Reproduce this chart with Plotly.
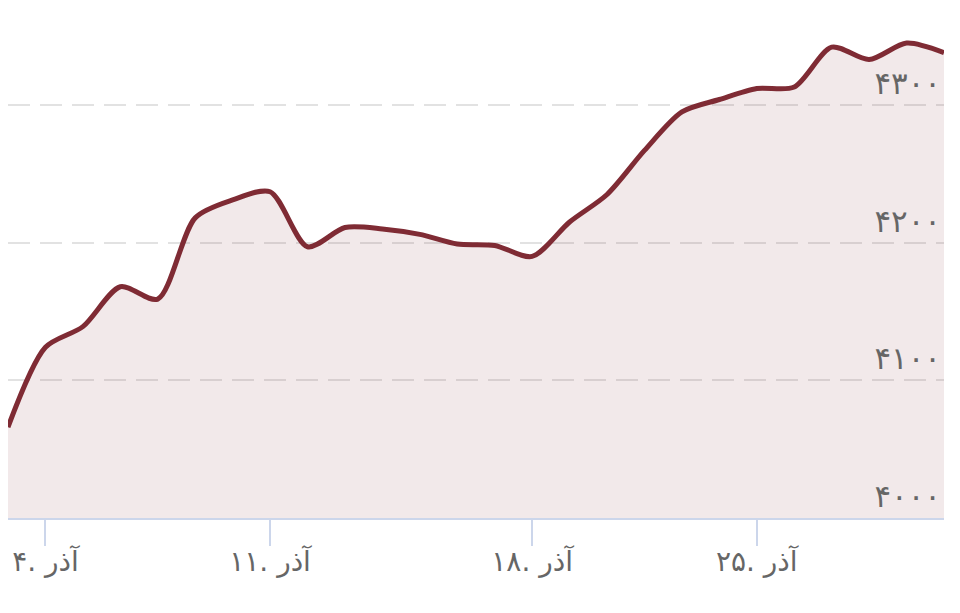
import plotly.graph_objects as go

# Trading days of Azar (category positions)
days = ["3", "4", "5", "6", "7", "9", "10", "11", "12", "13", "14", "15", "16", "17",
        "18", "19", "20", "21", "23", "24", "25", "26", "27", "28", "29", "30"]
values = [4066, 4124, 4139, 4168, 4159, 4218, 4231, 4237, 4197, 4211, 4210, 4206, 4199, 4198,
          4190, 4215, 4235, 4267, 4295, 4304, 4312, 4313, 4342, 4333, 4345, 4338]

x_tick_days = ["4", "11", "18", "25"]
x_tick_text = ["۴. آذر", "۱۱. آذر", "۱۸. آذر", "۲۵. آذر"]
y_tick_vals = [4000, 4100, 4200, 4300]
y_tick_text = ["۴۰۰۰", "۴۱۰۰", "۴۲۰۰", "۴۳۰۰"]

line_color = "#7f2b34"

fig = go.Figure()
fig.add_trace(go.Scatter(
    x=days, y=values, mode="lines",
    line=dict(color=line_color, width=5, shape="spline", smoothing=0.8),
    fill="tozeroy", fillcolor="rgba(127,43,52,0.1)",
    hoverinfo="skip",
))

fig.update_layout(
    width=952, height=605,
    margin=dict(l=0, r=16, t=2, b=95),
    plot_bgcolor="white", paper_bgcolor="white",
    showlegend=False,
    font=dict(family="DejaVu Sans", color="#666666"),
)
fig.update_xaxes(
    type="category", range=[0, len(days) - 1],
    tickmode="array", tickvals=x_tick_days, ticktext=x_tick_text,
    ticks="outside", ticklen=26, tickwidth=2, tickcolor="#ccd6eb",
    ticklabelstandoff=-9,
    showline=True, linecolor="#ccd6eb", linewidth=2,
    showgrid=False, zeroline=False,
    tickfont=dict(size=28, color="#666666"),
)
fig.update_yaxes(
    range=[4000, 4369], side="right",
    tickmode="array", tickvals=y_tick_vals, ticktext=y_tick_text,
    ticklabelposition="inside top", ticks="",
    showgrid=True, gridcolor="#e2e2e2", gridwidth=2, griddash="22px,10px",
    zeroline=False, showline=False,
    tickfont=dict(size=31, color="#666666"),
)

fig.write_html("out.html")
